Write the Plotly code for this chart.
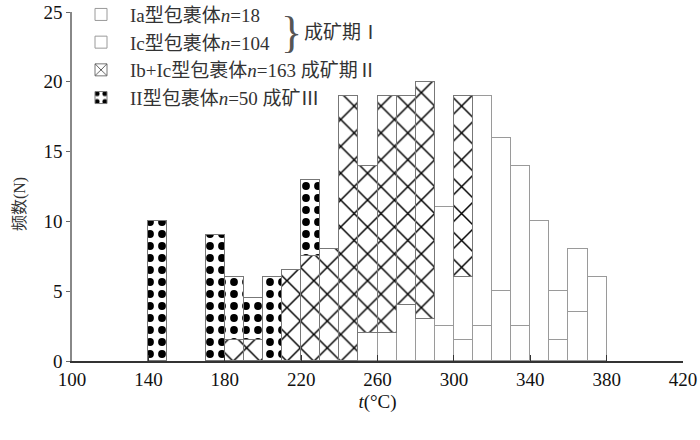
import plotly.graph_objects as go

# histogram bins (left edge, 10 degC wide)
bin_left = [140, 170, 180, 190, 200, 210, 220, 230, 240, 250, 260,
            270, 280, 290, 300, 310, 320, 330, 340, 350, 360, 370]

# counts per bin for each inclusion type
ia_counts = [None, None, None, None, None, None, None, None, None, None, None,
             None, None, 2.5, 1.5, 2.5, 5, 2.5, None, 1.5, 3.5, None]
ic_counts = [None, None, None, None, None, None, None, None, None, 2, 2,
             4, 3, 8.5, 4.5, 16.5, 11, 11.5, 10, 3.5, 4.5, 6]
ibic_counts = [None, None, 1.5, 1.5, None, 6.5, 7.5, 8, 19, 12, 17,
               15, 17, None, 13, None, None, None, None, None, None, None]
ii_counts = [10, 9, 4.5, 3, 6, None, 5.5, None, None, None, None,
             None, None, None, None, None, None, None, None, None, None, None]

names = ['Ia型包裹体<i>n</i>=18', 'Ic型包裹体<i>n</i>=104',
         'Ib+Ic型包裹体<i>n</i>=163 成矿期Ⅱ', 'II型包裹体<i>n</i>=50 成矿Ⅲ']

x_mid = [b + 5 for b in bin_left]

font_serif = 'Liberation Serif, Times New Roman, serif'
font_cjk = 'Liberation Serif, Noto Sans CJK SC, serif'

fig = go.Figure()

fig.add_trace(go.Bar(x=x_mid, y=ia_counts, name=names[0], legendgroup='a',
                     marker=dict(color='white', line=dict(color='#9a9a9a', width=1))))
fig.add_trace(go.Bar(x=x_mid, y=ic_counts, name=names[1], legendgroup='b',
                     marker=dict(color='white', line=dict(color='#9a9a9a', width=1))))
fig.add_trace(go.Bar(x=x_mid, y=ibic_counts, name=names[2], legendgroup='c',
                     marker=dict(color='white', line=dict(color='#777777', width=1),
                                 pattern=dict(shape='x', size=19, solidity=0.15,
                                              fgcolor='black', bgcolor='white',
                                              fgopacity=1))))
fig.add_trace(go.Bar(x=x_mid, y=ii_counts, name=names[3], legendgroup='d',
                     marker=dict(color='white', line=dict(color='#777777', width=1),
                                 pattern=dict(shape='.', size=12, solidity=0.33,
                                              fgcolor='black', bgcolor='white',
                                              fgopacity=1))))

fig.update_layout(
    width=700, height=440,
    barmode='stack', bargap=0,
    paper_bgcolor='white', plot_bgcolor='white',
    margin=dict(l=72, r=17, t=12, b=79, autoexpand=False),
    font=dict(family=font_serif, color='#222222'),
    showlegend=True,
    legend=dict(x=0.0, y=1.047, xanchor='left', yanchor='top',
                bgcolor='rgba(0,0,0,0)', tracegroupgap=23,
                traceorder='normal', itemwidth=48,
                font=dict(family=font_cjk, size=19, color='#333333')),
    xaxis=dict(range=[100, 420], tick0=100, dtick=40, automargin=False,
               showline=True, linecolor='#333333', linewidth=2,
               ticks='inside', ticklen=6, tickcolor='#333333',
               showgrid=False, zeroline=False,
               tickfont=dict(family=font_serif, size=19, color='#111111'),
               title=dict(text='<i>t</i>(°C)', standoff=6,
                          font=dict(family=font_serif, size=19, color='#111111'))),
    yaxis=dict(range=[0, 25], tick0=0, dtick=5, automargin=False,
               showline=True, linecolor='#888888', linewidth=1.5,
               ticks='outside', ticklen=4, tickcolor='#666666',
               showgrid=False, zeroline=False,
               tickfont=dict(family=font_serif, size=19, color='#111111')),
)

# y axis title, sits a little below the middle in the original
fig.add_annotation(xref='paper', yref='paper', x=-0.085, y=0.45,
                   text='频数(N)', showarrow=False, textangle=-90,
                   xanchor='center', yanchor='middle',
                   font=dict(family=font_cjk, size=16, color='#333333'))

# brace grouping the two type I entries
fig.add_annotation(xref='paper', yref='paper', x=0.36, y=0.942,
                   text='}', showarrow=False, xanchor='center', yanchor='middle',
                   font=dict(family=font_serif, size=44, color='#555555'))
fig.add_annotation(xref='paper', yref='paper', x=0.376, y=0.942,
                   text='成矿期Ⅰ', showarrow=False, xanchor='left', yanchor='middle',
                   font=dict(family=font_cjk, size=19, color='#333333'))

# drop the default page margin so the figure sits at the window corner
fig.write_html("out.html", config={'displayModeBar': False},
               post_script="document.body.style.margin='0';")
